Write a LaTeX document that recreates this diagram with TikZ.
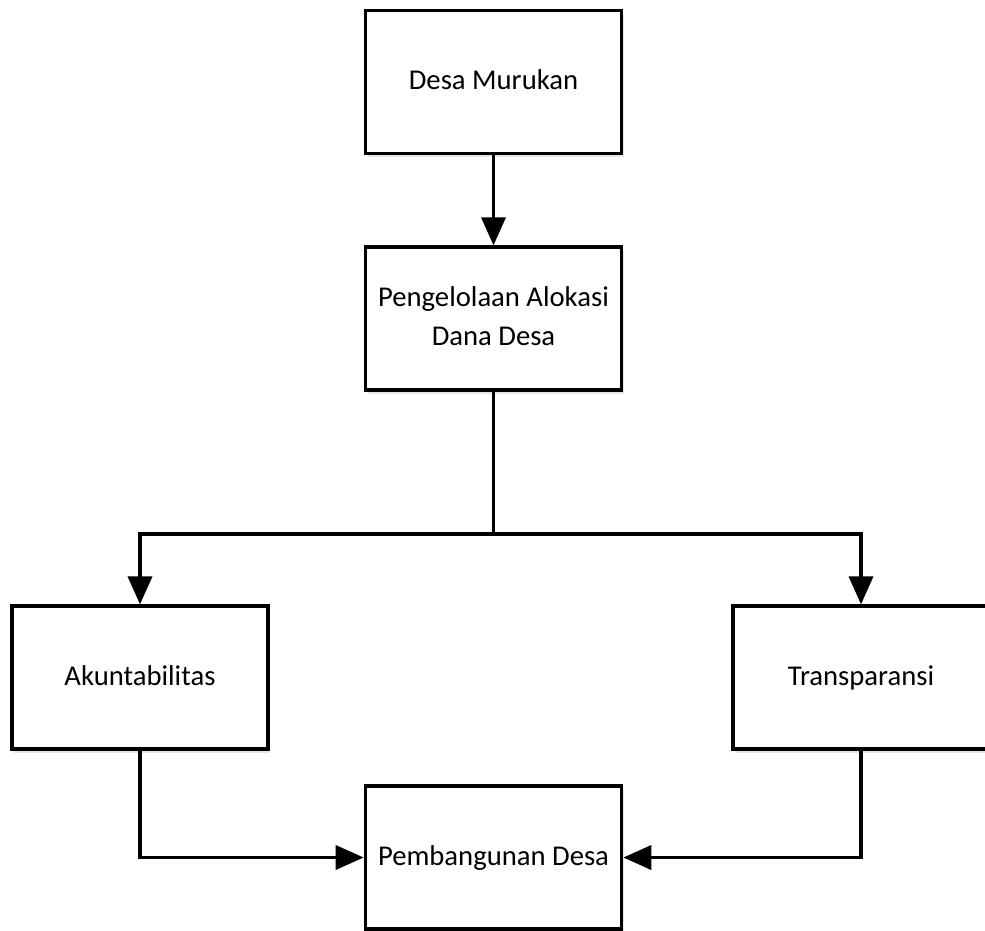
\documentclass[tikz,border=0pt]{standalone}
\usepackage{fontspec}
\setmainfont{Carlito}
\usetikzlibrary{arrows.meta,shadows}
\definecolor{shade}{RGB}{222,232,244}
\begin{document}
\begin{tikzpicture}[x=0.75pt,y=-0.75pt,
  box/.style={draw=black,line width=2.7pt,fill=white,minimum width=192pt,minimum height=107pt,
    align=center,font=\fontsize{21.5}{29}\selectfont,inner sep=2pt,
    drop shadow={shadow xshift=1.5pt,shadow yshift=-3pt,fill=shade,opacity=1}},
  conn/.style={line width=2.7pt,-{Triangle[length=21pt,width=18pt]}},
  line/.style={line width=2.7pt}]
\clip (0,0) rectangle (985,931);
\fill[white] (0,0) rectangle (985,931);
\node[box] (desa) at (493.5,82) {\strut Desa Murukan};
\node[box] (adk) at (493.5,318.5) {\strut Pengelolaan Alokasi\\\strut Dana Desa};
\node[box] (akun) at (140,677.5) {\strut Akuntabilitas};
\node[box] (trans) at (861,677.5) {\strut Transparansi};
\node[box] (pemb) at (493.5,857.5) {\strut Pembangunan Desa};
\coordinate (split) at (493.5,534);
\draw[conn] (desa.south) -- (adk.north);
\draw[line] (adk.south) -- (split);
\draw[conn] (split) -| (akun.north);
\draw[conn] (split) -| (trans.north);
\draw[conn] (akun.south) |- (pemb.west);
\draw[conn] (trans.south) |- (pemb.east);
\end{tikzpicture}
\end{document}
